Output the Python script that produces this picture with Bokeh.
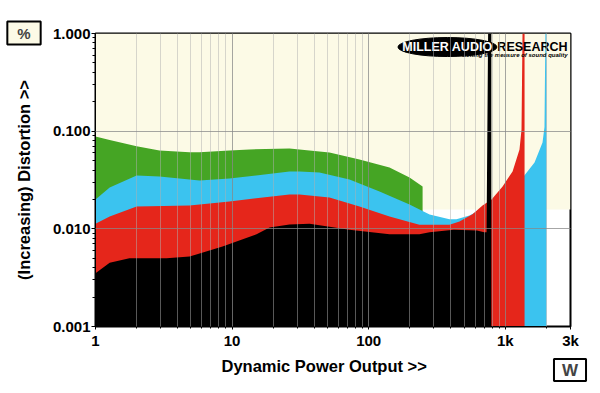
from bokeh.plotting import figure
from bokeh.models import FixedTicker, CustomJSTickFormatter, Label, BoxAnnotation
from bokeh.embed import file_html
from bokeh.resources import INLINE

# ---- data (W, %) ----
green_x = [1, 1.27, 2.0, 2.94, 4.88, 5.77, 9.57, 13.4, 26.3, 31.1, 51.6, 85.6, 142, 199, 248]
green_y = [0.088, 0.081, 0.070, 0.0635, 0.061, 0.061, 0.0635, 0.065, 0.0664, 0.065, 0.0606, 0.0513, 0.0425, 0.0336, 0.0272]

cyan_x = [1, 1.27, 2.0, 2.94, 5.77, 9.57, 26.3, 31.1, 43.6, 72.3, 120, 199, 279, 390, 439, 547, 907, 1168, 1360, 1636, 1872, 1935, 1965, 2004]
cyan_y = [0.020, 0.0265, 0.0352, 0.0343, 0.0313, 0.0328, 0.0386, 0.0386, 0.0377, 0.032, 0.0241, 0.0178, 0.014, 0.0125, 0.0125, 0.0137, 0.020, 0.025, 0.0343, 0.0478, 0.0766, 0.11, 1.0, 1.0]

red_x = [1, 1.27, 2.0, 4.88, 9.57, 26.3, 31.1, 51.6, 85.6, 142, 235, 390, 462, 575, 681, 793, 955, 1130, 1270, 1314, 1336, 1383]
red_y = [0.0113, 0.0134, 0.0169, 0.0173, 0.0191, 0.0225, 0.0225, 0.0209, 0.0169, 0.0134, 0.011, 0.011, 0.0119, 0.0141, 0.0173, 0.020, 0.0272, 0.0386, 0.0649, 0.104, 1.0, 1.0]

black_x = [1, 1.27, 1.77, 3.31, 4.88, 8.51, 15.1, 18.8, 26.3, 36.9, 72.3, 142, 235, 279, 420, 620, 700, 729, 748, 790]
black_y = [0.0035, 0.0045, 0.0050, 0.0050, 0.0052, 0.0066, 0.0088, 0.0103, 0.0111, 0.0113, 0.0098, 0.0088, 0.0088, 0.0092, 0.0098, 0.0096, 0.0092, 0.0092, 1.0, 1.0]

x_ticks = [1, 10, 100, 1000, 3000]
x_minor = [m * d for d in (1, 10, 100) for m in range(2, 10)] + [2000]
y_ticks = [0.001, 0.01, 0.1, 1.0]
y_minor = [m * d for d in (0.001, 0.01, 0.1) for m in range(2, 10)]

CREAM = "#fcfae6"
FONT = "Liberation Sans"

p = figure(width=598, height=391, x_axis_type="log", y_axis_type="log",
           x_range=(1, 3000), y_range=(0.001, 1.0),
           output_backend="svg", toolbar_location=None,
           min_border_left=95, min_border_top=33, min_border_right=28, min_border_bottom=65,
           background_fill_color="white", border_fill_color="white")

p.add_layout(BoxAnnotation(bottom=0.0158, fill_color=CREAM, fill_alpha=1.0, line_color=None, level="underlay"))

p.varea(x=green_x, y1=0.001, y2=green_y, fill_color="#45a524")
p.varea(x=cyan_x, y1=0.001, y2=cyan_y, fill_color="#3bc3ef")
p.varea(x=red_x, y1=0.001, y2=red_y, fill_color="#e5261b")
p.varea(x=black_x, y1=0.001, y2=black_y, fill_color="#000000")

# grid
p.xgrid.level = "overlay"
p.ygrid.level = "overlay"
p.xgrid.grid_line_color = "#888888"
p.xgrid.grid_line_alpha = 0.75
p.xgrid.minor_grid_line_color = "#b0b0b0"
p.xgrid.minor_grid_line_alpha = 0.5
p.ygrid.grid_line_color = "#888888"
p.ygrid.grid_line_alpha = 0.75
p.ygrid.minor_grid_line_color = None

p.outline_line_color = "black"
p.outline_line_width = 2

p.xaxis.ticker = FixedTicker(ticks=x_ticks, minor_ticks=x_minor)
p.yaxis.ticker = FixedTicker(ticks=y_ticks, minor_ticks=y_minor)
p.xaxis.formatter = CustomJSTickFormatter(code="return tick >= 1000 ? (tick/1000).toFixed(0) + 'k' : tick.toFixed(0);")
p.yaxis.formatter = CustomJSTickFormatter(code="return tick.toFixed(3);")

for ax in (p.xaxis, p.yaxis):
    ax.axis_line_color = "black"
    ax.major_tick_line_color = "black"
    ax.minor_tick_line_color = "black"
    ax.major_tick_in = 0
    ax.minor_tick_in = 0
    ax.major_label_text_font = FONT
    ax.major_label_text_font_style = "bold"
    ax.major_label_text_font_size = "15px"
    ax.major_label_text_color = "black"
    ax.axis_label_text_font = FONT
    ax.axis_label_text_font_style = "bold"
    ax.axis_label_text_font_size = "16.5px"
    ax.axis_label_text_color = "black"

p.xaxis.major_tick_out = 3
p.xaxis.minor_tick_out = 2
p.yaxis.major_tick_out = 4
p.yaxis.minor_tick_out = 3
p.xaxis.major_label_standoff = 2
p.yaxis.major_label_standoff = 1
p.yaxis.axis_label = "(Increasing) Distortion >>"
p.yaxis.axis_label_standoff = 17

# x-axis title and unit boxes, placed in side panels so they are not clipped
p.add_layout(Label(x=1, y=0.001, x_offset=126, y_offset=-39, text="Dynamic Power Output >>",
                   text_align="left", text_baseline="middle", text_font=FONT, text_font_style="bold",
                   text_font_size="16.5px", text_color="black"), "below")
p.add_layout(Label(x=3000, y=0.001, x_offset=-0.5, y_offset=-43.5, text="W", text_align="center",
                   text_baseline="middle", text_font=FONT, text_font_style="bold", text_font_size="17px",
                   background_fill_color="white", border_line_color="black", border_line_width=2,
                   padding=(8, 8, 2, 1)), "below")
p.add_layout(Label(x=1, y=1.0, x_offset=-71.5, y_offset=0.5, text="%", text_align="center",
                   text_baseline="middle", text_font=FONT, text_font_style="bold", text_font_size="15px",
                   background_fill_color=CREAM, border_line_color="black", border_line_width=2,
                   padding=(10, 10, 3, 3)), "above")

# logo
logo_x, logo_y = 377.0, 0.727
p.ellipse(x=[logo_x], y=[logo_y], width=99, height=19, width_units="screen", height_units="screen",
          fill_color="black", line_color="black")
p.add_layout(Label(x=logo_x, y=logo_y, text="MILLER AUDIO", text_align="center", text_baseline="middle",
                   text_font=FONT, text_font_style="bold", text_font_size="12.5px", text_color="white"))
p.add_layout(Label(x=3000, y=1.0, x_offset=-3, y_offset=-13.3, text="RESEARCH", text_align="right",
                   text_baseline="middle", text_font=FONT, text_font_style="bold", text_font_size="12.5px",
                   text_color="black"))
p.add_layout(Label(x=3000, y=1.0, x_offset=-3, y_offset=-21.5, text="Getting the measure of sound quality",
                   text_align="right", text_baseline="middle", text_font=FONT, text_font_style="bold italic",
                   text_font_size="6px", text_color="black"))

open("out.html", "w").write(file_html(p, INLINE))
